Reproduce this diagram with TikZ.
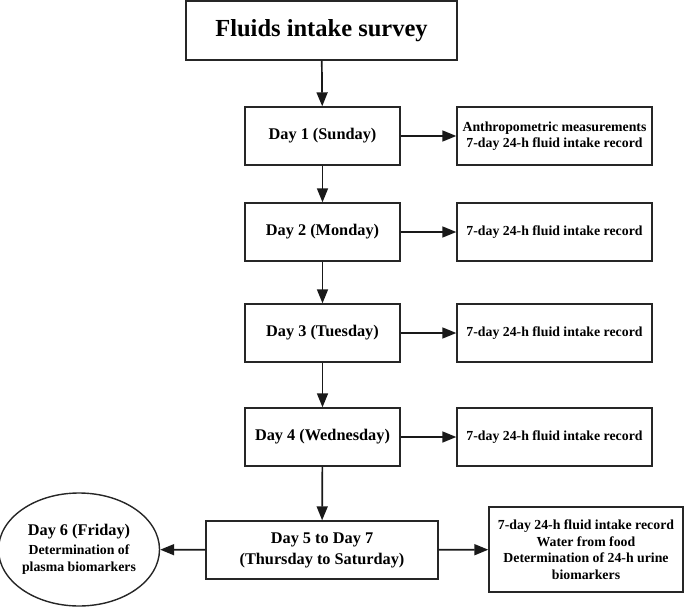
\documentclass[tikz,border=0pt]{standalone}
\usepackage{fontspec}
\setmainfont{Liberation Serif}
\usetikzlibrary{arrows.meta,shapes.geometric}
\begin{document}
\begin{tikzpicture}[x=1pt,y=-1pt,
  box/.style={draw=black!85, line width=1.4pt, fill=white, inner sep=0pt, align=center},
  daybox/.style={box, minimum width=155pt, minimum height=58pt, font=\bfseries\fontsize{16.3}{20}\selectfont},
  infobox/.style={box, minimum width=195pt, minimum height=58pt, font=\bfseries\fontsize{13.8}{16.5}\selectfont},
  conn/.style={line width=1.7pt, draw=black!90, -{Triangle[length=14pt,width=11pt]}}
]
\useasboundingbox (0,0) rectangle (685,607);
\node[box, minimum width=271pt, minimum height=59pt, font=\bfseries\fontsize{24.5}{28}\selectfont] (title) at (321.5,30.5) {Fluids intake survey};
\node[daybox] (d1) at (322.5,136) {Day 1 (Sunday)};
\node[daybox] (d2) at (322.5,232) {Day 2 (Monday)};
\node[daybox] (d3) at (322.5,333) {Day 3 (Tuesday)};
\node[daybox] (d4) at (322.5,437) {Day 4 (Wednesday)};
\node[box, minimum width=232pt, minimum height=58pt, font=\bfseries\fontsize{16.3}{21}\selectfont] (d5) at (322,550) {Day 5 to Day 7\\(Thursday to Saturday)};
\node[infobox] (r1) at (554.5,136) {Anthropometric measurements\\7-day 24-h fluid intake record};
\node[infobox] (r2) at (554.5,232) {7-day 24-h fluid intake record};
\node[infobox] (r3) at (554.5,333) {7-day 24-h fluid intake record};
\node[infobox] (r4) at (554.5,437) {7-day 24-h fluid intake record};
\node[infobox, minimum width=194pt, minimum height=85pt] (r5) at (586,549.5) {7-day 24-h fluid intake record\\Water from food\\Determination of 24-h urine\\biomarkers};
\node[ellipse, draw=black!85, line width=1.4pt, inner sep=0pt, minimum width=156pt, minimum height=113pt, align=center, font=\bfseries\fontsize{13.8}{17.5}\selectfont] (e) at (79,549.5)
  {{\fontsize{16.3}{18}\selectfont Day 6 (Friday)}\\[1pt]Determination of\\plasma biomarkers};
\draw[conn] (title) -- (d1);
\draw[conn] (d1) -- (d2);
\draw[conn] (d2) -- (d3);
\draw[conn] (d3) -- (d4);
\draw[conn] (d4) -- (d5);
\draw[conn] (d1) -- (r1);
\draw[conn] (d2) -- (r2);
\draw[conn] (d3) -- (r3);
\draw[conn] (d4) -- (r4);
\draw[conn] (d5) -- (r5);
\draw[conn] (d5) -- (e);
\end{tikzpicture}
\end{document}
